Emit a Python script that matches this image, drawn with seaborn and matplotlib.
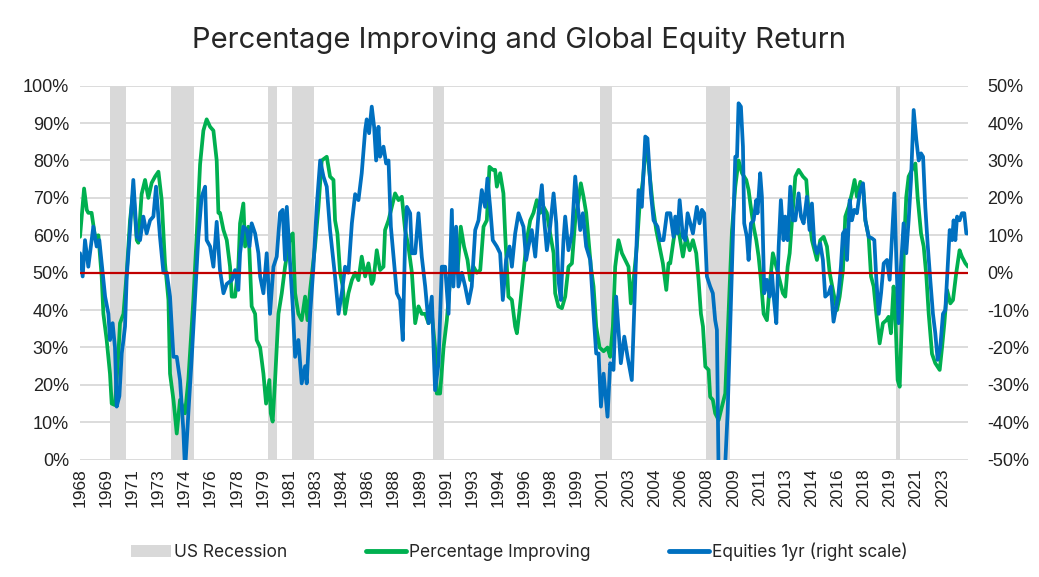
import pandas as pd
import matplotlib
matplotlib.use("Agg")
import matplotlib.pyplot as plt
from matplotlib.patches import Patch
from matplotlib.lines import Line2D
from matplotlib.ticker import FuncFormatter
import seaborn as sns

# Percentage Improving (left scale, %)
improving_years = [
    1968.00, 1968.26, 1968.43, 1968.53, 1968.74, 1968.96, 1969.17, 1969.38, 1969.49, 1969.70,
    1969.91, 1970.02, 1970.23, 1970.45, 1970.55, 1970.77, 1970.98, 1971.19, 1971.40, 1971.62,
    1971.72, 1971.93, 1972.15, 1972.36, 1972.57, 1972.79, 1973.00, 1973.21, 1973.42, 1973.64,
    1973.74, 1973.96, 1974.17, 1974.38, 1974.70, 1974.91, 1975.23, 1975.44, 1975.66, 1975.87,
    1976.08, 1976.30, 1976.51, 1976.72, 1976.83, 1976.93, 1977.15, 1977.36, 1977.57, 1977.68,
    1977.89, 1978.10, 1978.21, 1978.42, 1978.53, 1978.74, 1978.95, 1979.17, 1979.27, 1979.49,
    1979.70, 1979.87, 1980.08, 1980.17, 1980.29, 1980.44, 1980.66, 1980.87, 1981.08, 1981.40,
    1981.57, 1981.72, 1981.93, 1982.14, 1982.36, 1982.51, 1982.68, 1982.99, 1983.21, 1983.42,
    1983.74, 1983.95, 1984.17, 1984.27, 1984.42, 1984.59, 1984.76, 1984.91, 1985.12, 1985.34,
    1985.55, 1985.76, 1985.97, 1986.19, 1986.40, 1986.61, 1986.72, 1986.93, 1987.14, 1987.36,
    1987.46, 1987.68, 1987.89, 1988.10, 1988.32, 1988.53, 1988.74, 1988.95, 1989.17, 1989.38,
    1989.59, 1989.80, 1990.02, 1990.23, 1990.44, 1990.65, 1990.76, 1990.97, 1991.19, 1991.40,
    1991.61, 1991.82, 1992.08, 1992.29, 1992.50, 1992.72, 1992.89, 1993.10, 1993.31, 1993.53,
    1993.74, 1993.95, 1994.12, 1994.33, 1994.48, 1994.59, 1994.80, 1995.01, 1995.12, 1995.33,
    1995.55, 1995.76, 1995.87, 1996.04, 1996.29, 1996.50, 1996.72, 1996.93, 1997.14, 1997.36,
    1997.57, 1997.78, 1997.99, 1998.21, 1998.31, 1998.52, 1998.74, 1998.95, 1999.16, 1999.38,
    1999.59, 1999.80, 1999.95, 2000.12, 2000.29, 2000.44, 2000.59, 2000.76, 2000.93, 2001.14,
    2001.40, 2001.65, 2001.82, 2001.99, 2002.14, 2002.35, 2002.57, 2002.78, 2002.99, 2003.14,
    2003.31, 2003.52, 2003.69, 2003.91, 2004.12, 2004.33, 2004.55, 2004.76, 2004.97, 2005.18,
    2005.40, 2005.54, 2005.65, 2005.86, 2006.08, 2006.29, 2006.46, 2006.67, 2006.89, 2007.10,
    2007.31, 2007.46, 2007.61, 2007.74, 2007.89, 2008.10, 2008.20, 2008.37, 2008.52, 2008.74,
    2008.95, 2009.16, 2009.37, 2009.59, 2009.80, 2010.01, 2010.23, 2010.50, 2010.65, 2010.76,
    2010.97, 2011.14, 2011.29, 2011.44, 2011.61, 2011.82, 2011.99, 2012.20, 2012.42, 2012.63,
    2012.84, 2012.99, 2013.14, 2013.27, 2013.42, 2013.63, 2013.84, 2014.12, 2014.33, 2014.48,
    2014.69, 2015.01, 2015.22, 2015.44, 2015.65, 2015.82, 2016.07, 2016.29, 2016.46, 2016.67,
    2016.82, 2017.03, 2017.24, 2017.41, 2017.56, 2017.78, 2017.95, 2018.10, 2018.31, 2018.46,
    2018.63, 2018.80, 2019.01, 2019.22, 2019.44, 2019.58, 2019.73, 2019.90, 2020.01, 2020.16,
    2020.29, 2020.44, 2020.58, 2020.71, 2020.86, 2021.07, 2021.29, 2021.43, 2021.65, 2021.82,
    2021.99, 2022.14, 2022.35, 2022.56, 2022.84, 2022.99, 2023.14, 2023.31, 2023.52, 2023.69,
    2023.90, 2024.11, 2024.26, 2024.48, 2024.65,
]
improving_pct = [
    59.6, 72.5, 66.8, 66.0, 66.0, 59.6, 60.0, 49.0, 39.0, 32.0,
    23.0, 15.0, 14.6, 28.4, 36.5, 39.0, 50.0, 64.0, 72.0, 58.7,
    58.0, 71.0, 74.8, 70.0, 74.0, 75.7, 77.0, 69.4, 52.5, 42.7,
    23.0, 16.0, 7.0, 16.0, 12.4, 21.3, 42.7, 59.6, 79.0, 88.0,
    91.0, 89.0, 88.0, 80.0, 66.0, 66.0, 61.4, 58.7, 51.6, 43.6,
    43.6, 51.6, 63.2, 68.5, 57.0, 62.3, 41.0, 39.0, 32.0, 30.0,
    23.0, 15.0, 21.3, 12.4, 10.2, 21.0, 39.0, 44.5, 51.6, 59.6,
    60.5, 44.5, 39.0, 37.3, 43.6, 37.3, 45.4, 57.0, 67.6, 80.0,
    81.0, 75.7, 74.8, 64.0, 60.5, 50.0, 46.3, 39.0, 44.5, 48.0,
    50.0, 48.0, 54.3, 49.0, 52.5, 47.0, 48.0, 56.0, 50.7, 51.6,
    61.4, 64.0, 67.6, 71.2, 69.4, 70.3, 61.4, 57.0, 50.0, 36.5,
    41.0, 39.0, 39.0, 36.5, 39.0, 30.0, 17.7, 17.7, 30.0, 37.3,
    48.0, 50.0, 50.0, 62.3, 57.0, 53.4, 48.0, 51.6, 50.0, 50.7,
    62.3, 64.0, 78.3, 77.5, 77.5, 73.0, 76.6, 71.2, 60.5, 43.6,
    42.7, 35.6, 33.8, 40.0, 50.0, 58.7, 64.0, 66.0, 69.4, 66.0,
    67.6, 66.0, 60.5, 55.2, 44.5, 41.0, 40.5, 43.6, 51.6, 52.5,
    64.0, 69.4, 73.9, 70.3, 66.0, 58.7, 51.6, 46.3, 35.6, 30.0,
    29.0, 30.0, 27.5, 35.6, 51.6, 58.7, 55.2, 53.4, 51.6, 41.8,
    48.0, 57.0, 67.6, 74.8, 85.5, 76.6, 67.6, 61.4, 57.0, 52.5,
    45.4, 52.5, 52.5, 58.7, 64.0, 58.7, 54.3, 59.6, 56.0, 58.7,
    55.2, 48.0, 39.0, 35.6, 24.9, 24.0, 16.8, 16.0, 12.4, 10.6,
    14.2, 17.7, 39.0, 61.4, 73.0, 80.0, 76.6, 74.8, 72.1, 68.5,
    62.3, 58.7, 54.3, 48.0, 39.0, 37.3, 46.3, 55.2, 51.6, 48.0,
    44.5, 43.6, 51.6, 55.2, 64.0, 75.7, 77.5, 75.7, 74.8, 66.0,
    58.7, 53.4, 58.7, 59.6, 57.0, 50.0, 44.5, 40.0, 43.6, 50.7,
    65.0, 67.6, 71.2, 74.8, 70.3, 74.3, 73.0, 64.0, 59.6, 49.0,
    46.3, 39.0, 31.1, 36.5, 37.3, 38.2, 33.8, 46.3, 39.0, 21.3,
    19.5, 39.0, 58.7, 70.3, 75.7, 77.5, 79.2, 70.3, 60.5, 57.0,
    49.0, 39.0, 28.3, 25.8, 24.0, 30.0, 36.5, 45.4, 41.8, 42.7,
    50.0, 56.0, 54.3, 52.5, 51.6,
]

# Equities 1yr return (right scale, %)
equity_years = [
    1968.00, 1968.17, 1968.32, 1968.53, 1968.85, 1969.06, 1969.23, 1969.38, 1969.60, 1969.81,
    1969.91, 1970.08, 1970.23, 1970.34, 1970.51, 1970.66, 1970.77, 1970.87, 1970.98, 1971.19,
    1971.40, 1971.62, 1971.83, 1972.04, 1972.25, 1972.47, 1972.68, 1972.85, 1973.10, 1973.32,
    1973.53, 1973.74, 1973.96, 1974.17, 1974.38, 1974.59, 1974.70, 1974.91, 1975.13, 1975.34,
    1975.55, 1975.76, 1975.98, 1976.08, 1976.30, 1976.51, 1976.72, 1976.93, 1977.15, 1977.36,
    1977.68, 1977.89, 1978.10, 1978.21, 1978.42, 1978.64, 1978.81, 1978.95, 1979.17, 1979.38,
    1979.49, 1979.70, 1979.91, 1980.12, 1980.34, 1980.55, 1980.76, 1980.93, 1981.08, 1981.19,
    1981.40, 1981.57, 1981.72, 1981.93, 1982.14, 1982.36, 1982.46, 1982.68, 1982.89, 1983.10,
    1983.32, 1983.53, 1983.74, 1983.95, 1984.27, 1984.49, 1984.70, 1984.91, 1985.12, 1985.34,
    1985.55, 1985.76, 1985.97, 1986.19, 1986.29, 1986.44, 1986.61, 1986.76, 1986.89, 1987.04,
    1987.14, 1987.36, 1987.53, 1987.68, 1987.83, 1988.00, 1988.21, 1988.42, 1988.59, 1988.74,
    1988.85, 1989.06, 1989.17, 1989.38, 1989.59, 1989.80, 1990.02, 1990.23, 1990.44, 1990.65,
    1990.87, 1991.08, 1991.29, 1991.51, 1991.72, 1991.82, 1991.99, 1992.14, 1992.36, 1992.57,
    1992.78, 1992.99, 1993.21, 1993.42, 1993.63, 1993.84, 1993.99, 1994.16, 1994.33, 1994.59,
    1994.80, 1994.97, 1995.18, 1995.40, 1995.55, 1995.76, 1995.97, 1996.29, 1996.46, 1996.61,
    1996.82, 1997.04, 1997.25, 1997.46, 1997.61, 1997.78, 1997.99, 1998.21, 1998.38, 1998.52,
    1998.67, 1998.84, 1998.95, 1999.16, 1999.38, 1999.59, 1999.74, 1999.91, 2000.08, 2000.29,
    2000.55, 2000.76, 2000.93, 2001.08, 2001.23, 2001.40, 2001.65, 2001.82, 2002.03, 2002.20,
    2002.35, 2002.50, 2002.72, 2002.93, 2003.20, 2003.42, 2003.63, 2003.84, 2004.06, 2004.20,
    2004.42, 2004.59, 2004.84, 2005.01, 2005.22, 2005.44, 2005.65, 2005.86, 2005.97, 2006.12,
    2006.25, 2006.46, 2006.61, 2006.76, 2006.93, 2007.10, 2007.35, 2007.52, 2007.67, 2007.82,
    2007.99, 2008.20, 2008.37, 2008.52, 2008.63, 2008.74, 2009.06, 2009.31, 2009.48, 2009.65,
    2009.80, 2009.91, 2010.01, 2010.16, 2010.29, 2010.37, 2010.54, 2010.65, 2010.80, 2010.97,
    2011.14, 2011.22, 2011.39, 2011.50, 2011.65, 2011.82, 2011.99, 2012.14, 2012.25, 2012.42,
    2012.57, 2012.71, 2012.88, 2012.99, 2013.14, 2013.31, 2013.48, 2013.63, 2013.84, 2013.99,
    2014.16, 2014.37, 2014.54, 2014.69, 2014.84, 2015.01, 2015.22, 2015.39, 2015.54, 2015.76,
    2015.90, 2016.07, 2016.25, 2016.39, 2016.54, 2016.67, 2016.82, 2016.93, 2017.10, 2017.24,
    2017.39, 2017.56, 2017.73, 2017.95, 2018.10, 2018.31, 2018.52, 2018.67, 2018.80, 2018.95,
    2019.10, 2019.27, 2019.48, 2019.65, 2019.80, 2019.95, 2020.07, 2020.22, 2020.37, 2020.54,
    2020.71, 2020.86, 2021.01, 2021.18, 2021.35, 2021.50, 2021.65, 2021.78, 2021.92, 2022.07,
    2022.24, 2022.41, 2022.56, 2022.71, 2022.88, 2023.05, 2023.20, 2023.35, 2023.48, 2023.63,
    2023.73, 2023.84, 2023.95, 2024.11, 2024.26, 2024.41, 2024.54, 2024.65,
]
equity_ret = [
    5.2, -1.0, 8.7, 1.6, 12.3, 7.0, 8.7, 2.5, -6.4, -11.0,
    -18.0, -13.5, -20.0, -35.8, -33.0, -21.6, -18.0, -14.4, -1.0, 11.4,
    24.8, 9.6, 8.7, 15.0, 10.5, 14.0, 15.0, 23.0, 9.6, 0.0,
    0.0, -6.4, -22.5, -22.5, -28.7, -42.0, -53.0, -37.6, -22.5, -6.4,
    9.6, 20.3, 23.0, 8.7, 7.0, 1.6, 13.6, 0.7, -5.5, -3.0,
    -2.0, 0.7, -4.6, 5.2, 12.3, 11.4, 7.0, 13.2, 10.5, 5.2,
    -1.0, -5.5, 5.2, -11.0, 1.6, 4.3, 16.0, 16.8, 3.4, 17.6,
    2.5, -9.0, -22.5, -18.0, -29.6, -25.0, -29.6, -11.0, 1.6, 17.6,
    30.0, 25.7, 23.0, 11.4, -1.0, -11.0, -5.5, 1.6, 0.0, 13.2,
    21.0, 19.4, 26.6, 38.1, 41.0, 37.3, 44.4, 39.0, 30.0, 39.0,
    31.0, 33.7, 29.2, 30.0, 12.3, 4.3, -5.5, -7.3, -18.0, 8.7,
    17.6, 15.9, 5.2, 5.2, 15.9, 4.3, -3.7, -13.5, -6.4, -31.4,
    -24.2, 1.6, 1.6, -11.0, 16.8, -3.7, 12.3, -3.7, 0.0, -3.7,
    -8.2, -3.7, 11.4, 14.0, 22.1, 17.6, 25.2, 17.6, 8.7, 7.0,
    5.2, -7.3, 3.4, 7.0, 1.6, 10.5, 15.9, 12.3, 3.4, 7.0,
    11.4, 4.3, 15.9, 23.4, 14.0, 6.0, 12.3, 21.2, 13.2, -1.9,
    -7.3, 8.7, 15.0, 6.0, 10.5, 25.7, 18.5, 11.4, 15.9, 7.0,
    3.4, -11.0, -21.6, -21.6, -35.8, -27.0, -38.5, -24.2, -26.0, -6.4,
    -15.3, -24.2, -17.1, -22.5, -28.7, -1.9, 22.1, 17.6, 36.4, 35.9,
    21.2, 14.0, 12.3, 8.7, 8.7, 15.9, 15.9, 9.6, 15.0, 10.5,
    19.4, 9.6, 8.7, 15.9, 13.2, 10.5, 17.6, 13.2, 16.8, 15.9,
    -1.0, -3.7, -5.5, -12.7, -15.3, -55.0, -60.0, -37.6, -13.5, 11.4,
    31.0, 31.0, 45.3, 44.4, 33.7, 13.2, 9.6, 3.4, 13.2, 14.0,
    19.4, 15.9, 26.6, 20.3, -5.5, -1.9, -6.4, 0.0, -6.4, -13.5,
    7.0, 19.4, 8.7, 15.0, 8.7, 23.0, 14.0, 14.0, 21.2, 15.0,
    13.2, 20.3, 11.4, 18.5, 7.8, 5.2, 7.8, 3.4, -6.4, -5.5,
    -3.7, -13.1, -9.0, -5.5, 1.6, 10.5, 11.4, 3.4, 19.4, 14.0,
    16.8, 15.9, 21.2, 23.9, 14.0, 9.6, 9.2, 8.7, -1.9, -11.0,
    -5.5, 2.5, 3.4, -1.9, 9.6, 21.2, 4.3, -13.5, 1.6, 13.2,
    5.2, 14.0, 24.8, 43.5, 35.5, 30.0, 31.9, 31.0, 17.6, 7.8,
    -1.9, -11.0, -16.2, -23.3, -19.8, -11.0, -10.0, 1.6, 11.4, 8.7,
    14.0, 8.7, 15.0, 14.0, 15.9, 15.9, 10.5, 10.5,
]

# NBER US recessions (first month, last month)
recession_start = ["1969-12", "1973-11", "1980-01", "1981-07", "1990-07", "2001-03", "2007-12", "2020-02"]
recession_end = ["1970-11", "1975-03", "1980-07", "1982-11", "1991-03", "2001-11", "2009-06", "2020-04"]

GREEN = "#00B050"
BLUE = "#0070C0"
RED = "#C00000"
GREY = "#D9D9D9"


def to_dates(years):
    out = []
    for y in years:
        base = int(y)
        out.append(pd.Timestamp(base, 1, 1) + pd.Timedelta(days=(y - base) * 365.25))
    return pd.DatetimeIndex(out)


improving = pd.DataFrame({"date": to_dates(improving_years), "value": improving_pct})
equities = pd.DataFrame({"date": to_dates(equity_years), "value": equity_ret})

sns.set_style("white")
plt.rcParams["font.family"] = ["Liberation Sans", "DejaVu Sans"]

fig = plt.figure(figsize=(10.39, 5.77), dpi=100)
ax = fig.add_axes([0.077, 0.2033, 0.8547, 0.6482])
ax2 = ax.twinx()

# Recession bars
for s, e in zip(recession_start, recession_end):
    ax.axvspan(pd.Timestamp(s), pd.Timestamp(e) + pd.offsets.MonthEnd(1),
               color=GREY, lw=0, zorder=1)

sns.lineplot(data=improving, x="date", y="value", ax=ax, color=GREEN,
             linewidth=2.7, zorder=3)
sns.lineplot(data=equities, x="date", y="value", ax=ax2, color=BLUE,
             linewidth=2.7, zorder=3)
ax2.axhline(0, color=RED, lw=1.6, zorder=5)

ax.set_xlim(improving["date"].iloc[0], improving["date"].iloc[-1])
ax.set_ylim(0, 100)
ax2.set_ylim(-50, 50)
ax.set_yticks(range(0, 101, 10))
ax2.set_yticks(range(-50, 51, 10))
pct = FuncFormatter(lambda v, _: f"{v:.0f}%")
ax.yaxis.set_major_formatter(pct)
ax2.yaxis.set_major_formatter(pct)

ticks = pd.date_range("1968-01-01", "2023-01-01", freq="20MS")
ax.set_xticks(ticks)
ax.set_xticklabels([str(t.year) for t in ticks], rotation=90)

ax.yaxis.grid(True, color=GREY, lw=1.3, zorder=0)
ax.set_axisbelow(True)
for a in (ax, ax2):
    for sp in a.spines.values():
        sp.set_visible(False)
    a.tick_params(length=0, labelsize=13, colors="#222222")
    a.set_xlabel("")
    a.set_ylabel("")
ax.tick_params(axis="y", pad=8)
ax2.tick_params(axis="y", pad=14)
ax.tick_params(axis="x", pad=6, labelsize=12.5)

fig.text(0.5, 0.93, "Percentage Improving and Global Equity Return",
         ha="center", va="center", fontsize=21, family=["Inter", "DejaVu Sans"])

handles = [
    Patch(facecolor=GREY, edgecolor="none"),
    Line2D([0], [0], color=GREEN, lw=3.5),
    Line2D([0], [0], color=BLUE, lw=3.5),
]
labels = ["US Recession", "Percentage Improving", "Equities 1yr (right scale)"]
fig.legend(handles, labels, loc="center", bbox_to_anchor=(0.5, 0.044), ncol=3,
           frameon=False, columnspacing=4.5, handlelength=2.3, handletextpad=0.2,
           prop={"family": ["Inter", "DejaVu Sans"], "size": 12.5})

fig.savefig("out.png", dpi=100)
